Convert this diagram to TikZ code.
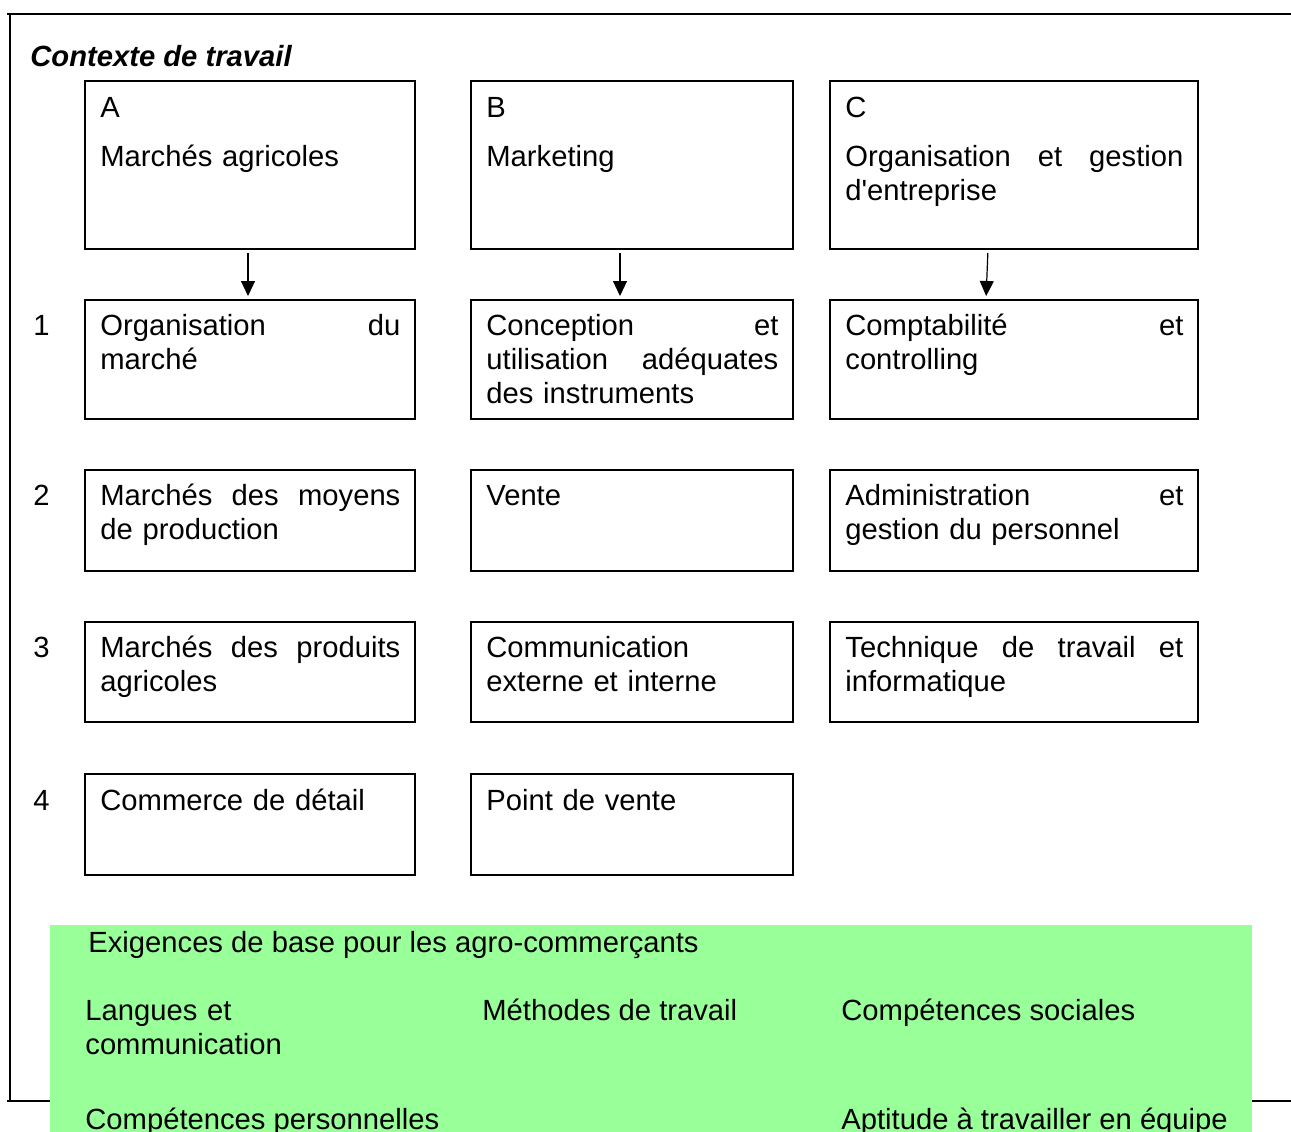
\documentclass[tikz,border=0pt]{standalone}
\usepackage{fontspec}
\setmainfont{Liberation Sans}[Ligatures=TeXOff]
\usepackage{tikz}
\usetikzlibrary{arrows.meta}
\definecolor{basegreen}{RGB}{153,255,153}
\newcommand{\cellfont}{\fontsize{14.6pt}{17pt}\selectfont}

\begin{document}
\begin{tikzpicture}[x=0.5pt,y=-0.5pt,font=\cellfont]
        \tikzset{cell/.style={draw,line width=1pt,anchor=north west,inner sep=0pt,outer sep=0pt},
                 txt/.style={anchor=base west,inner sep=0pt,align=left},
                 down/.style={-{Triangle[width=7pt,length=7.5pt]},line width=0.6pt,shorten <=2pt,shorten >=2pt}}
        \useasboundingbox (0,0) rectangle (1291,1131);
        \clip (0,0) rectangle (1291,1131);
        % frame
        \draw[line width=1pt] (7,14) -- (1291,14);
        \draw[line width=1pt] (10,14) -- (10,1101);
        \draw[line width=0.6pt] (7,1101) -- (1291,1101);
        \node[txt,font=\cellfont\bfseries\itshape] (title) at (30,66) {Contexte de travail};
        % boxes
        \node[cell,minimum width=165pt,minimum height=84pt] (A0) at (85,81) {};
        \node[cell,minimum width=161pt,minimum height=84pt] (B0) at (471,81) {};
        \node[cell,minimum width=184pt,minimum height=84pt] (C0) at (830,81) {};
        \node[cell,minimum width=165pt,minimum height=59.5pt] (A1) at (85,300) {};
        \node[cell,minimum width=161pt,minimum height=59.5pt] (B1) at (471,300) {};
        \node[cell,minimum width=184pt,minimum height=59.5pt] (C1) at (830,300) {};
        \node[cell,minimum width=165pt,minimum height=50.5pt] (A2) at (85,470) {};
        \node[cell,minimum width=161pt,minimum height=50.5pt] (B2) at (471,470) {};
        \node[cell,minimum width=184pt,minimum height=50.5pt] (C2) at (830,470) {};
        \node[cell,minimum width=165pt,minimum height=50pt] (A3) at (85,622) {};
        \node[cell,minimum width=161pt,minimum height=50pt] (B3) at (471,622) {};
        \node[cell,minimum width=184pt,minimum height=50pt] (C3) at (830,622) {};
        \node[cell,minimum width=165pt,minimum height=50.5pt] (A4) at (85,774) {};
        \node[cell,minimum width=161pt,minimum height=50.5pt] (B4) at (471,774) {};
        % texts
        \node[txt,text width=150pt] (tA0) at (100,117) {A\\[7.5pt]Marchés agricoles};
        \node[txt,text width=146pt] (tB0) at (486,117) {B\\[7.5pt]Marketing};
        \node[txt,text width=169pt] (tC0) at (845,117) {C\\[7.5pt]Organisation\hfill et\hfill gestion\\d'entreprise};
        \node[txt,text width=150pt] (tA1) at (100,335) {Organisation\hfill du\\marché};
        \node[txt,text width=146pt] (tB1) at (486,335) {Conception\hfill et\\utilisation\hfill adéquates\\des instruments};
        \node[txt,text width=169pt] (tC1) at (845,335) {Comptabilité\hfill et\\controlling};
        \node[txt,text width=150pt] (tA2) at (100,505) {Marchés\hfill des\hfill moyens\\de production};
        \node[txt,text width=146pt] (tB2) at (486,505) {Vente};
        \node[txt,text width=169pt] (tC2) at (845,505) {Administration\hfill et\\gestion du personnel};
        \node[txt,text width=150pt] (tA3) at (100,657) {Marchés\hfill des\hfill produits\\agricoles};
        \node[txt,text width=146pt] (tB3) at (486,657) {Communication\\externe et interne};
        \node[txt,text width=169pt] (tC3) at (845,657) {Technique\hfill de\hfill travail\hfill et\\informatique};
        \node[txt,text width=150pt] (tA4) at (100,810) {Commerce de détail};
        \node[txt,text width=146pt] (tB4) at (486,810) {Point de vente};
        \foreach \n/\y in {1/335,2/505,3/657,4/810}
            \node[txt] (row\n) at (33,\y) {\n};
        % arrows
        \draw[down] ([xshift=-1pt]A0.south) -- ([xshift=-1pt]A1.north);
        \draw[down] ([xshift=-6pt]B0.south) -- ([xshift=-6pt]B1.north);
        \draw[down] ([xshift=-13pt]C0.south) -- ([xshift=-14pt]C1.north);
        % basic requirements
        \node[fill=basegreen,anchor=north west,minimum width=601pt,minimum height=110pt,inner sep=0pt,outer sep=0pt] (base) at (50,925) {};
        \node[txt] (bhead) at (88,952) {Exigences de base pour les agro-commerçants};
        \node[txt,text width=150pt] (lang) at (85,1020) {Langues et\\communication};
        \node[txt] (meth) at (482,1020) {Méthodes de travail};
        \node[txt] (soc) at (841,1020) {Compétences sociales};
        \node[txt] (pers) at (85,1129) {Compétences personnelles};
        \node[txt] (team) at (841,1129) {Aptitude à travailler en équipe};
    \end{tikzpicture}
\end{document}
